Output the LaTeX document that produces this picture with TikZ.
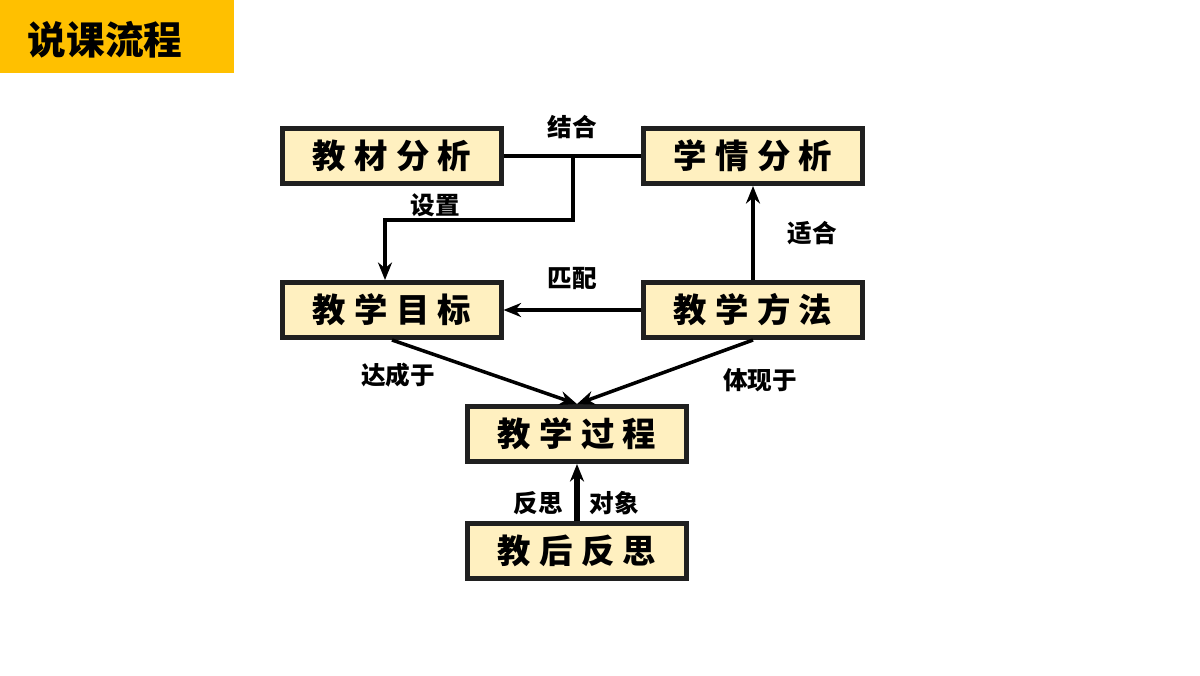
\documentclass[tikz,border=0pt]{standalone}
\usepackage{fontspec}
\newfontfamily\cjk{Noto Sans CJK SC}
\newfontfamily\cjkbox[LetterSpace=25]{Noto Sans CJK SC}
\usetikzlibrary{arrows.meta, positioning, calc}
\definecolor{titleyellow}{HTML}{FFC000}
\definecolor{boxfill}{HTML}{FFF0C0}
\definecolor{boxline}{HTML}{202020}

\begin{document}
\begin{tikzpicture}[x=0.01cm, y=-0.01cm,
    stagebox/.style={draw=boxline, line width=1.4pt, fill=boxfill,
        minimum width=2.18cm, minimum height=0.55cm, inner sep=0pt,
        font=\cjkbox\bfseries\fontsize{9.5}{11}\selectfont},
    tag/.style={font=\cjk\bfseries\fontsize{7}{8}\selectfont},
    link/.style={line width=1pt, black},
    >={Stealth[length=5pt, width=4pt]}]
    % Canvas
    \useasboundingbox (0,0) rectangle (1200,675);
    \fill[white] (0,0) rectangle (1200,675);

    % Title
    \fill[titleyellow] (0,0) rectangle (234,73);
    \node[font=\cjk\bfseries\fontsize{11}{13}\selectfont] (title) at (105,40) {说课流程};

    % Stages
    \node[stagebox] (material) at (392,156) {教材分析};
    \node[stagebox] (student) at (753,156) {学情分析};
    \node[stagebox] (goal) at (392,310) {教学目标};
    \node[stagebox] (method) at (753,310) {教学方法};
    \node[stagebox] (process) at (577,434) {教学过程};
    \node[stagebox] (review) at (577,551) {教后反思};

    % Connectors
    \draw[link] (material) -- (student) node[tag, pos=0.5, above=1pt] {结合};
    \coordinate (joint) at (573,156);
    \draw[link, ->] (joint) -- (573,220) -- (385,220) -- (goal.north -| 385,0);
    \node[tag] (setlabel) at (435,205) {设置};
    \draw[link, ->] (method) -- (goal) node[tag, pos=0.5, above=2pt] {匹配};
    \draw[link, ->] (method) -- (student) node[tag, pos=0.5, right=6pt] {适合};
    \draw[link, ->] (goal.south) -- (process.north);
    \draw[link, ->] (method.south) -- (process.north);
    \node[tag] (reach) at (398,375) {达成于};
    \node[tag] (show) at (760,380) {体现于};
    \draw[link, line width=1.6pt, ->] (review) -- (process);
    \node[tag] (reflect) at (538,503) {反思};
    \node[tag] (object) at (614,503) {对象};
\end{tikzpicture}
\end{document}
